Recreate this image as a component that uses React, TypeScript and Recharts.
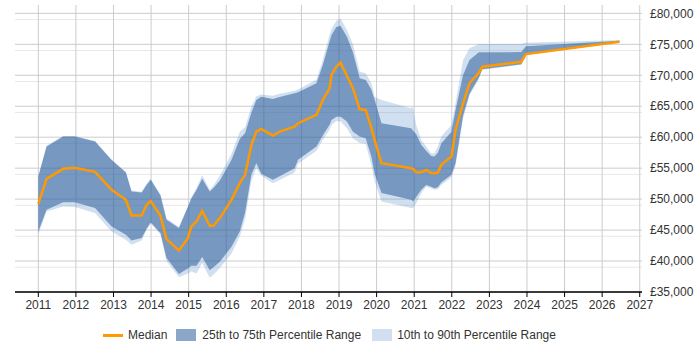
import { ComposedChart, Area, Line, XAxis, YAxis, CartesianGrid } from 'recharts'

// sample dates as decimal years
const years = [
  2011.0, 2011.22, 2011.66, 2011.97, 2012.51, 2012.95, 2013.33, 2013.48, 2013.75, 2013.88,
  2013.99, 2014.25, 2014.41, 2014.74, 2014.98, 2015.07, 2015.21, 2015.36, 2015.56, 2015.66,
  2015.83, 2016.14, 2016.36, 2016.5, 2016.67, 2016.8, 2016.93, 2017.24, 2017.42, 2017.82,
  2017.91, 2018.4, 2018.57, 2018.75, 2018.8, 2018.93, 2019.04, 2019.21, 2019.37, 2019.55,
  2019.71, 2019.86, 2019.95, 2020.13, 2020.92, 2020.97, 2021.05, 2021.19, 2021.32, 2021.45,
  2021.54, 2021.63, 2021.72, 2021.99, 2022.1, 2022.3, 2022.47, 2022.72, 2022.81, 2023.85,
  2023.97, 2026.46
]

const median = [
  49240, 53270, 54890, 55050, 54400, 51500, 49890, 47350, 47350, 49080,
  49670, 47300, 43550, 41710, 43710, 45580, 46390, 48100, 45690, 45690,
  46930, 49890, 52580, 53920, 58760, 60900, 61340, 60260, 60900, 61710,
  62260, 63600, 66020, 67900, 70050, 71390, 72030, 69890, 67900, 64510,
  64400, 61500, 59500, 55800, 55000, 54900, 54350, 54350, 54720, 54200,
  54190, 54290, 55530, 56870, 61180, 65480, 68710, 70420, 71390, 72190,
  73430, 75420
]

const p25 = [
  44770, 48270, 49510, 49510, 48550, 45580, 44240, 43320, 43710, 45200,
  46220, 44510, 40480, 37900, 38800, 39240, 39240, 40640, 38500, 39000,
  39900, 42300, 44770, 47800, 54000, 55800, 54100, 53110, 53700, 55000,
  56340, 58480, 60300, 62000, 62790, 63300, 63320, 62520, 60900, 60100,
  59840, 56870, 54000, 50970, 49890, 49610, 50300, 51500, 52300, 52000,
  51770, 51930, 52700, 53920, 55800, 63500, 67000, 69600, 70960, 71770,
  73300, 75350
]

const p75 = [
  53640, 58480, 60100, 60100, 59290, 56300, 54290, 51220, 51060, 52300,
  53110, 50600, 46660, 45320, 48750, 50050, 51500, 53300, 51220, 51800,
  53000, 56340, 59700, 60650, 64000, 66000, 66550, 66180, 66500, 67100,
  67250, 68710, 71700, 75500, 76500, 77800, 78000, 76230, 73700, 69520,
  69240, 67700, 66020, 62260, 61450, 61050, 60500, 58760, 57800, 56980,
  56870, 57500, 59000, 60900, 64400, 70050, 72470, 73710, 73710, 73750,
  74700, 75580
]

const p10 = [
  44300, 48000, 48800, 48710, 47740, 44770, 43430, 42620, 43300, 45000,
  46100, 44300, 40000, 37400, 38000, 38320, 38000, 39670, 37300, 37800,
  38870, 41200, 43970, 46800, 53000, 55000, 53800, 52580, 53100, 54300,
  55700, 57800, 59600, 61200, 62000, 62600, 62520, 61450, 59800, 59050,
  58900, 55500, 52800, 49610, 48550, 48550, 49300, 51000, 52000, 51700,
  51500, 51610, 52300, 53500, 55400, 63000, 66700, 69400, 70900, 71700,
  73250, 75300
]

const p90 = [
  53740, 58600, 60200, 60200, 59400, 56400, 54400, 51400, 51200, 52500,
  53300, 50800, 46900, 45500, 48800, 50300, 51800, 53900, 51500, 52200,
  53800, 57300, 60900, 61600, 65000, 66600, 66900, 66700, 67000, 67500,
  67700, 69300, 72500, 76600, 77500, 78800, 79190, 77300, 75000, 70580,
  70320, 68700, 66550, 66020, 64680, 64930, 62000, 59500, 58500, 57420,
  57420, 58500, 60100, 61980, 65500, 72470, 74350, 75050, 75050, 75050,
  75260, 75690
]

const yearTicks = [2011, 2012, 2013, 2014, 2015, 2016, 2017, 2018, 2019, 2020, 2021, 2022, 2023, 2024, 2025, 2026, 2027]
const salaryTicks = [35000, 40000, 45000, 50000, 55000, 60000, 65000, 70000, 75000, 80000]
const minorTicks = Array.from({ length: 46 }, (_, i) => 35000 + i * 1000).filter((v) => v % 5000 !== 0)

const data = years.map((year, i) => ({
  year,
  median: median[i],
  iqr: [p25[i], p75[i]],
  outer: [p10[i], p90[i]]
}))

const font = '"Liberation Sans", Arial, sans-serif'
const tickStyle = { fontSize: 12, fill: '#333', fontFamily: font }

const formatSalary = (v: number) => '£' + v.toLocaleString('en-GB')

const LegendRow = () => (
  <div
    style={{
      position: 'absolute',
      left: 103,
      top: 327,
      height: 16,
      display: 'flex',
      alignItems: 'center',
      fontFamily: font,
      fontSize: 12,
      color: '#333',
      whiteSpace: 'nowrap'
    }}
  >
    <span style={{ width: 20, height: 3, background: '#ff9900', marginRight: 5 }} />
    <span style={{ marginRight: 9 }}>Median</span>
    <span style={{ width: 20, height: 12, background: '#8aa7c8', marginRight: 6 }} />
    <span style={{ marginRight: 11 }}>25th to 75th Percentile Range</span>
    <span style={{ width: 20, height: 12, background: '#d1dff0', marginRight: 5 }} />
    <span>10th to 90th Percentile Range</span>
  </div>
)

const App = () => {
  return (
    <div style={{ position: 'absolute', left: 0, top: 0, width: 700, height: 350 }}>
      <ComposedChart
        width={700}
        height={350}
        data={data}
        margin={{ top: 5, right: 0, left: 15, bottom: 28 }}
      >
        <CartesianGrid
          horizontalValues={minorTicks}
          vertical={false}
          stroke="#e8e8e8"
        />
        <CartesianGrid
          horizontalValues={salaryTicks}
          verticalValues={yearTicks}
          stroke="#cccccc"
        />
        <XAxis
          dataKey="year"
          type="number"
          domain={[2010.38, 2027.06]}
          ticks={yearTicks}
          tick={tickStyle}
          tickLine={{ stroke: '#000' }}
          axisLine={{ stroke: '#000', strokeWidth: 1.5 }}
          tickSize={5}
          tickMargin={3}
          height={30}
          allowDataOverflow
        />
        <YAxis
          orientation="right"
          type="number"
          domain={[35000, 81350]}
          ticks={salaryTicks}
          tickFormatter={formatSalary}
          tick={tickStyle}
          axisLine={false}
          tickLine={false}
          width={58}
          allowDataOverflow
        />
        <Area
          dataKey="outer"
          type="linear"
          stroke="none"
          fill="#4682c8"
          fillOpacity={0.25}
          isAnimationActive={false}
          name="10th to 90th Percentile Range"
        />
        <Area
          dataKey="iqr"
          type="linear"
          stroke="none"
          fill="#2d5f99"
          fillOpacity={0.55}
          isAnimationActive={false}
          name="25th to 75th Percentile Range"
        />
        <Line
          dataKey="median"
          type="linear"
          stroke="#ff9900"
          strokeWidth={2.5}
          dot={false}
          isAnimationActive={false}
          name="Median"
        />
      </ComposedChart>
      <LegendRow />
    </div>
  )
}

export default App
